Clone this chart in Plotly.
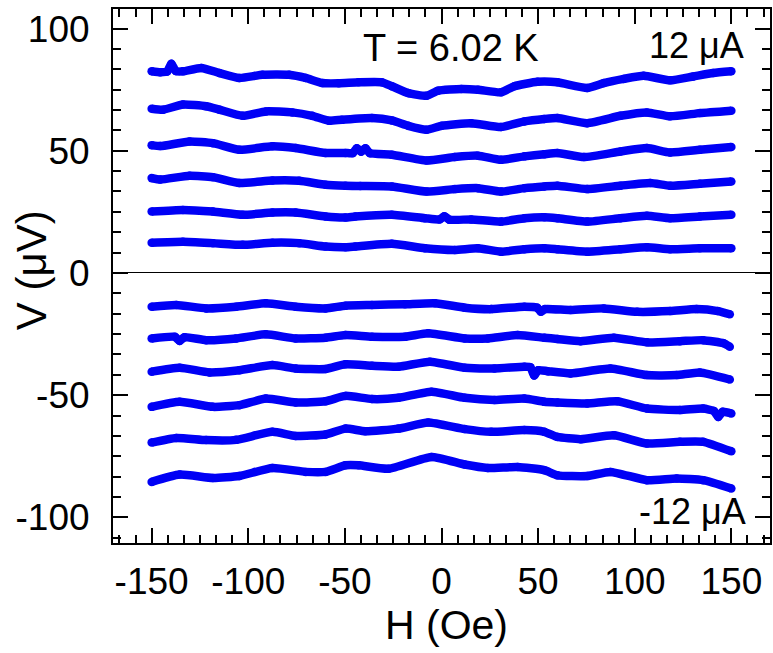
import plotly.graph_objects as go

# Field sweeps H (Oe) and measured voltages V (uV), one pair of lists per bias current
h_p12 = [-150, -145.5, -142, -139.8, -137.5, -133.8, -124.3, -114.9, -104.6, -92.6, -78.9, -70.3, -61.7, -53.2, -42.9, -30.9, -25.7, -17.2, -7.7, -1.7, 10.3, 18.9, 30.8, 37.7, 49.7, 60, 75.4, 84, 94.3, 104.6, 118.3, 130.3, 140.6, 150]
v_p12 = [82.5, 82.1, 82.4, 85.6, 82.6, 82.5, 83.9, 81.8, 79.8, 81.1, 81.1, 79.8, 77.7, 77.6, 78.0, 78.0, 76.4, 73.6, 72.5, 74.6, 75.3, 75.0, 73.9, 76.4, 78.2, 78.0, 75.7, 77.7, 79.4, 80.7, 78.8, 80.4, 81.8, 82.5]

h_p10 = [-150, -144, -133.8, -121.8, -114.9, -102.9, -90.9, -77.2, -66.9, -58.3, -51.5, -36, -25.7, -17.2, -7.7, 0, 15.4, 30.8, 42.9, 53.2, 60, 75.4, 92.6, 106.3, 118.3, 133.7, 150]
v_p10 = [67.2, 66.8, 68.9, 68.2, 66.8, 64.3, 66.1, 65.7, 64.3, 62.3, 62.7, 63.4, 62.4, 60.2, 58.6, 60.2, 61.3, 59.7, 62.0, 63.0, 63.4, 61.3, 64.3, 65.7, 64.1, 65.4, 66.4]

h_p8 = [-150, -145.5, -130.4, -118.3, -104.6, -87.5, -75.5, -60, -49.7, -46, -43.8, -41.6, -39.4, -37, -25.7, -7.7, 6.8, 18.9, 30.8, 42.9, 53.2, 60, 73.7, 92.6, 106.3, 118.3, 133.7, 150]
v_p8 = [52.3, 51.9, 53.8, 53.1, 50.4, 51.8, 51.1, 49.1, 49.1, 49.0, 51.0, 49.6, 51.0, 49.0, 48.4, 46.0, 47.4, 48.0, 46.3, 47.7, 48.6, 49.1, 47.4, 49.7, 51.1, 49.3, 50.4, 51.5]

h_p6 = [-150, -145.5, -130.4, -118.3, -104.6, -87.5, -73.7, -60, -49.7, -42, -25.7, -7.7, 6.8, 18.9, 30.8, 42.9, 53.2, 60, 75.4, 92.6, 108, 118.3, 133.7, 150]
v_p6 = [38.8, 38.2, 39.8, 39.2, 36.8, 37.8, 37.7, 36.1, 35.7, 35.6, 35.4, 33.3, 34.3, 34.7, 33.3, 34.7, 35.4, 35.7, 34.3, 35.7, 36.8, 35.7, 36.5, 37.4]

h_p4 = [-150, -133.8, -118.3, -102.9, -87.5, -75.5, -60, -49.7, -44.6, -25.7, -8.6, -1, 1.5, 4, 15.4, 30.8, 42.9, 53.2, 60, 75.4, 92.6, 106.3, 118.3, 133.7, 150]
v_p4 = [25.1, 25.8, 25.1, 23.8, 24.7, 24.7, 23.1, 22.7, 23.1, 23.8, 22.4, 21.9, 23.2, 21.8, 21.9, 21.0, 22.4, 22.8, 22.4, 21.0, 22.4, 23.4, 22.4, 23.1, 23.8]

h_p2 = [-150, -133.8, -118.3, -102.9, -87.5, -73.7, -60, -49.7, -44.6, -25.7, -8.6, 6.8, 18.9, 30.8, 42.9, 53.2, 60, 75.4, 92.6, 106.3, 118.3, 133.7, 150]
v_p2 = [12.4, 12.8, 12.2, 11.5, 12.4, 12.2, 10.8, 10.5, 10.8, 11.9, 10.1, 9.4, 10.1, 8.7, 9.7, 10.1, 9.7, 8.7, 9.7, 10.5, 9.7, 10.1, 10.1]

h_m2 = [-150, -137.2, -121.8, -106.3, -90.9, -75.5, -60, -49.7, -36, -18.9, -3.4, 12, 25.7, 42.9, 49.5, 51.4, 53.5, 66.8, 84, 101.2, 118.3, 132, 143, 149.2]
v_m2 = [-13.8, -13.1, -14.5, -13.8, -12.4, -13.8, -14.5, -13.4, -13.1, -12.8, -12.4, -14.2, -14.8, -13.8, -14.2, -15.9, -14.8, -15.2, -14.5, -15.9, -15.6, -14.8, -15.6, -16.9]

h_m4 = [-150, -138, -135.5, -133, -121.8, -106.3, -90.9, -75.5, -60, -49.7, -36, -18.9, -6.9, 12, 24, 39.4, 53.2, 60, 72, 89.2, 106.3, 123.4, 135.4, 146, 149.2]
v_m4 = [-26.8, -26.1, -27.8, -26.3, -27.5, -26.8, -25.1, -26.8, -26.5, -25.4, -26.1, -26.1, -24.7, -26.8, -26.8, -25.4, -26.5, -27.0, -27.9, -26.5, -28.4, -27.9, -27.5, -28.8, -30.2]

h_m6 = [-150, -135.5, -120.1, -104.6, -87.5, -75.5, -60, -49.7, -36, -22.3, -6, 12, 27.4, 42.9, 46, 48, 50, 54.9, 66.8, 87.4, 106.3, 121.7, 133.7, 149.2]
v_m6 = [-40.4, -38.8, -40.7, -39.8, -37.7, -39.1, -39.3, -37.4, -38.0, -38.4, -36.3, -38.8, -39.1, -38.4, -38.6, -42.0, -39.8, -40.2, -41.1, -39.1, -41.8, -41.8, -40.7, -43.6]

h_m8 = [-150, -135.5, -118.3, -104.6, -90.9, -75.5, -60, -49.7, -36, -22.3, -5.2, 12, 27.4, 42.9, 53.2, 60, 75.4, 90.9, 106.3, 123.4, 135.4, 141, 143.2, 145.5, 150]
v_m8 = [-54.8, -52.7, -54.8, -54.1, -51.4, -53.0, -52.5, -50.3, -51.6, -51.1, -48.6, -51.1, -52.0, -51.4, -52.7, -53.0, -53.4, -52.5, -55.5, -56.1, -55.5, -56.5, -58.9, -56.8, -57.5]

h_m10 = [-150, -137.2, -121.8, -106.3, -87.5, -75.5, -60, -49.7, -39.4, -22.3, -6.9, 12, 25.7, 42.9, 53.2, 60, 72, 89.2, 106.3, 123.4, 135.4, 150]
v_m10 = [-69.4, -67.5, -68.4, -68.3, -65.0, -66.7, -66.1, -63.7, -64.8, -63.7, -61.2, -63.9, -65.0, -64.3, -65.0, -67.1, -68.0, -66.4, -69.8, -69.1, -69.1, -73.0]

h_m12 = [-150, -135.5, -118.3, -104.6, -87.5, -70.3, -60, -49.7, -42.9, -27.4, -5.2, 12, 24, 39.4, 53.2, 60, 75.4, 87.4, 106.3, 121.7, 135.4, 150]
v_m12 = [-85.5, -82.5, -83.9, -83.1, -79.8, -81.4, -81.4, -78.7, -78.7, -80.1, -75.3, -78.4, -79.8, -79.4, -80.7, -82.8, -83.1, -81.4, -84.8, -84.1, -84.8, -88.2]

currents = ["12 μA", "10 μA", "8 μA", "6 μA", "4 μA", "2 μA",
            "-2 μA", "-4 μA", "-6 μA", "-8 μA", "-10 μA", "-12 μA"]
sweeps = [(h_p12, v_p12), (h_p10, v_p10), (h_p8, v_p8), (h_p6, v_p6),
          (h_p4, v_p4), (h_p2, v_p2), (h_m2, v_m2), (h_m4, v_m4),
          (h_m6, v_m6), (h_m8, v_m8), (h_m10, v_m10), (h_m12, v_m12)]

x_ticks = [-150, -100, -50, 0, 50, 100, 150]
y_ticks = [-100, -50, 0, 50, 100]

FONT = "Liberation Sans, Arial, sans-serif"
BLUE = "#0000f5"

fig = go.Figure()
for name, (h, v) in zip(currents, sweeps):
    fig.add_trace(go.Scatter(
        x=h, y=v, name=name, mode="lines+markers",
        line=dict(color=BLUE, width=8.5, shape="spline", smoothing=0.5),
        marker=dict(color=BLUE, size=8.5, line=dict(width=0)),
        showlegend=False,
    ))

axis_common = dict(
    showline=True, linecolor="black", linewidth=2, mirror="allticks",
    ticks="inside", tickcolor="black", tickwidth=2, ticklen=15,
    showgrid=False,
    tickfont=dict(family=FONT, size=37, color="black"),
)

fig.update_xaxes(
    range=[-170, 170], tickmode="array", tickvals=x_ticks,
    ticktext=[str(t) for t in x_ticks], ticklabelstandoff=5,
    minor=dict(ticks="inside", tickmode="linear", tick0=0, dtick=50 / 6,
               ticklen=8, tickwidth=1.5, tickcolor="black", showgrid=False),
    zeroline=False, **axis_common,
)
fig.update_yaxes(
    range=[-110.5, 108], tickmode="array", tickvals=y_ticks,
    ticktext=[str(t) for t in y_ticks], ticklabelstandoff=14,
    minor=dict(ticks="inside", tickmode="linear", tick0=0, dtick=50 / 6,
               ticklen=8, tickwidth=1.5, tickcolor="black", showgrid=False),
    zeroline=True, zerolinecolor="black", zerolinewidth=1.2,
    **axis_common,
)

annotations = [
    dict(x=5, y=92.2, xref="x", yref="y", text="T = 6.02 K", showarrow=False,
         xanchor="center", yanchor="middle", font=dict(family=FONT, size=38, color="black")),
    dict(x=157.5, y=93, xref="x", yref="y", text="12 μA", showarrow=False,
         xanchor="right", yanchor="middle", font=dict(family=FONT, size=36, color="black")),
    dict(x=158.5, y=-97.5, xref="x", yref="y", text="-12 μA", showarrow=False,
         xanchor="right", yanchor="middle", font=dict(family=FONT, size=36, color="black")),
    # axis titles
    dict(x=0.508, y=-0.153, xref="paper", yref="paper", text="H (Oe)", showarrow=False,
         xanchor="center", yanchor="middle", font=dict(family=FONT, size=41, color="black")),
    dict(x=-0.124, y=0.51, xref="paper", yref="paper", text="V (μV)", showarrow=False,
         textangle=-90, xanchor="center", yanchor="middle",
         font=dict(family=FONT, size=42, color="black")),
]

fig.update_layout(
    width=773, height=653,
    margin=dict(l=113, r=1, t=9, b=110),
    paper_bgcolor="white", plot_bgcolor="white",
    annotations=annotations,
)

fig.write_html("out.html")
